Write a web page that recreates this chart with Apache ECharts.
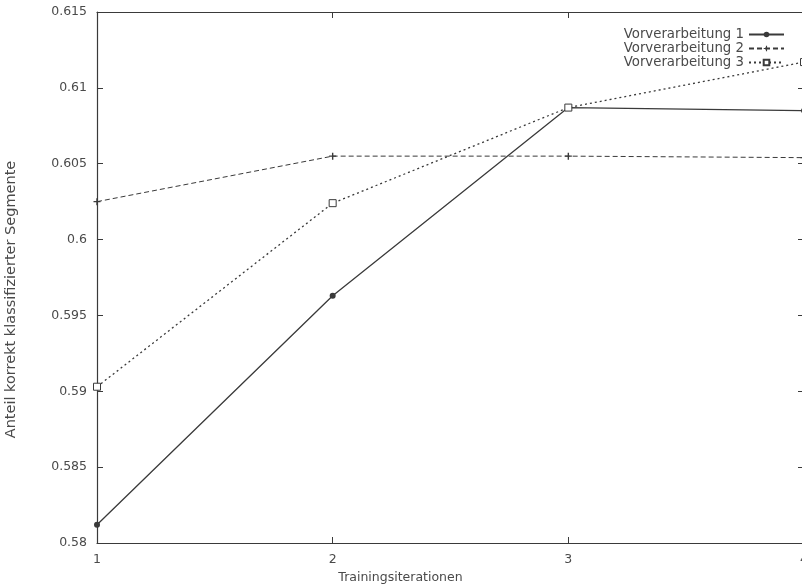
<!DOCTYPE html>
<html><head><meta charset="utf-8">
<script src="https://cdn.jsdelivr.net/npm/echarts@6/dist/echarts.min.js"></script>
<style>html,body{margin:0;padding:0;background:#fff}#c{width:802px;height:585px}</style>
</head><body><div id="c"></div>
<script>
const iterations = [1, 2, 3, 4];
const seriesNames = ['Vorverarbeitung 1', 'Vorverarbeitung 2', 'Vorverarbeitung 3'];
const v1 = [0.5812, 0.5963, 0.6087, 0.6085];
const v2 = [0.6025, 0.6055, 0.6055, 0.6054];
const v3 = [0.5903, 0.6024, 0.6087, 0.6117];
const yTicks = [0.58, 0.585, 0.59, 0.595, 0.6, 0.605, 0.61, 0.615];

const ink = '#3a3a3a';
const txt = '#4a4a4a';
const font = 'DejaVu Sans';
const plus = 'path://M4,0 L6,0 L6,4 L10,4 L10,6 L6,6 L6,10 L4,10 L4,6 L0,6 L0,4 L4,4 Z';

function pts(v){ return iterations.map((x,i)=>[x, v[i]]); }

const chart = echarts.init(document.getElementById('c'), null, {renderer:'canvas'});
const axisCommon = {
  axisLine:{show:true, lineStyle:{color:ink, width:1.2}},
  axisTick:{show:true, inside:true, length:6, lineStyle:{color:ink, width:1}},
  splitLine:{show:false}
};
chart.setOption({
  animation:false,
  backgroundColor:'#fff',
  textStyle:{fontFamily:font},
  grid:{left:97, top:12, width:707, height:531, outerBoundsMode:'none', containLabel:false},
  legend:{
    orient:'vertical', right:12, top:23, align:'right',
    itemWidth:35, itemHeight:7, itemGap:1,
    textStyle:{fontFamily:font, fontSize:13.3, lineHeight:13, color:txt},
    data:seriesNames
  },
  xAxis:[
    Object.assign({type:'value', min:1, max:4, interval:1, position:'bottom',
      name:'Trainingsiterationen', nameLocation:'middle', nameGap:25,
      nameTextStyle:{fontFamily:font, fontSize:12.5, color:txt, padding:[0,100,0,0]},
      axisLabel:{fontFamily:font, fontSize:12.5, color:txt, margin:10, showMaxLabel:true}}, axisCommon),
    Object.assign({type:'value', min:1, max:4, interval:1, position:'top', axisLabel:{show:false}}, axisCommon)
  ],
  yAxis:[
    Object.assign({type:'value', min:yTicks[0], max:yTicks[yTicks.length-1], interval:0.005, position:'left',
      name:'Anteil korrekt klassifizierter Segmente', nameLocation:'middle', nameGap:78,
      nameTextStyle:{fontFamily:font, fontSize:14.5, color:txt, padding:[0,44,0,0]},
      axisLabel:{fontFamily:font, fontSize:12.5, color:txt, margin:10,
        formatter:v=>String(+v.toFixed(3))}}, axisCommon),
    Object.assign({type:'value', min:yTicks[0], max:yTicks[yTicks.length-1], interval:0.005, position:'right', axisLabel:{show:false}}, axisCommon)
  ],
  series:[
    {name:seriesNames[0], type:'line', data:pts(v1), symbol:'circle', symbolSize:6,
      lineStyle:{color:ink, width:1.3, type:'solid'}, itemStyle:{color:ink}},
    {name:seriesNames[1], type:'line', data:pts(v2), symbol:plus, symbolSize:7,
      lineStyle:{color:ink, width:1, type:[5,3]}, itemStyle:{color:ink}},
    {name:seriesNames[2], type:'line', data:pts(v3), symbol:'rect', symbolSize:7, showAllSymbol:true,
      lineStyle:{color:ink, width:1.3, type:[2,3]}, itemStyle:{color:'#fff', borderColor:ink, borderWidth:1}}
  ]
});
</script></body></html>
